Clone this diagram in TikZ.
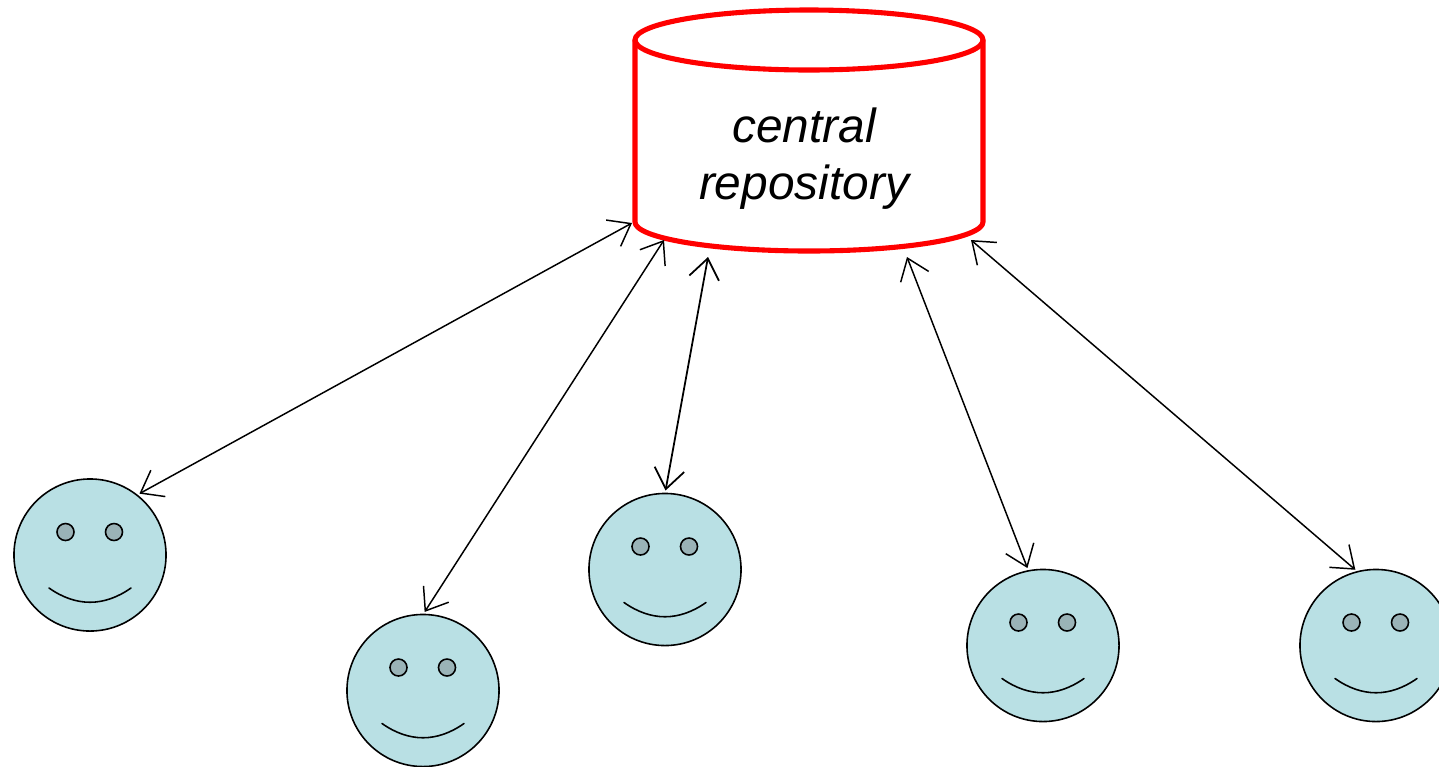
\documentclass[tikz,border=0pt]{standalone}
\usepackage{fontspec}
\setmainfont{Liberation Sans}
\usetikzlibrary{arrows.meta}
\definecolor{facefill}{HTML}{B9E0E4}
\definecolor{eyefill}{HTML}{9AB3B7}
\tikzset{
 face/.style={circle, draw, fill=facefill, line width=.45pt, minimum size=1.52cm, inner sep=0pt, outer sep=0pt},
 eye/.style={circle, draw, fill=eyefill, line width=.45pt, minimum size=.17cm, inner sep=0pt, outer sep=0pt},
 repoline/.style={red, line width=1.45pt, line join=round},
 link/.style={line width=.42pt, shorten >=.03cm, {Straight Barb[length=.2cm,width=.3cm]}-{Straight Barb[length=.2cm,width=.3cm]}}
}
\begin{document}
\begin{tikzpicture} [x=.01cm, y=-.01cm, line join=round, line cap=round]
 \useasboundingbox (0,0) rectangle (1439,766);
 \draw[repoline] (635,40)--(635,222) arc[start angle=180, end angle=0, x radius=174, y radius=29]--(983,40);
 \draw[repoline] (809,40) ellipse [x radius=174, y radius=30];
 \node[align=center, font=\fontsize{13.6}{16.2}\selectfont\itshape] (repo) at (804,159) {central\\repository};
 \foreach \f/\x/\y in {a/90/555,b/423/690.5,c/665/569.5,d/1043/645.5,e/1376/645.5} {
  \node[face] (\f) at (\x,\y) {};
  \node[eye] (\f l) at (\x-24.5,\y-23) {};
  \node[eye] (\f r) at (\x+24,\y-23) {};
  \draw[line width=.45pt] (\x-41,\y+33) .. controls (\x-14,\y+52) and (\x+14,\y+52) .. (\x+41,\y+33);
 }
 \coordinate (ra) at (632,223);
 \coordinate (rb) at (664,240);
 \coordinate (rc) at (708,257);
 \coordinate (rd) at (907,257);
 \coordinate (re) at (971,240);
 \draw[link] (ra)--(a.52);
 \draw[link] (rb)--(b.90);
 \draw[link, line width=.5pt] (rc)--(c.90);
 \draw[link] (rd)--(d.101);
 \draw[link] (re)--(e.104);
\end{tikzpicture}
\end{document}
